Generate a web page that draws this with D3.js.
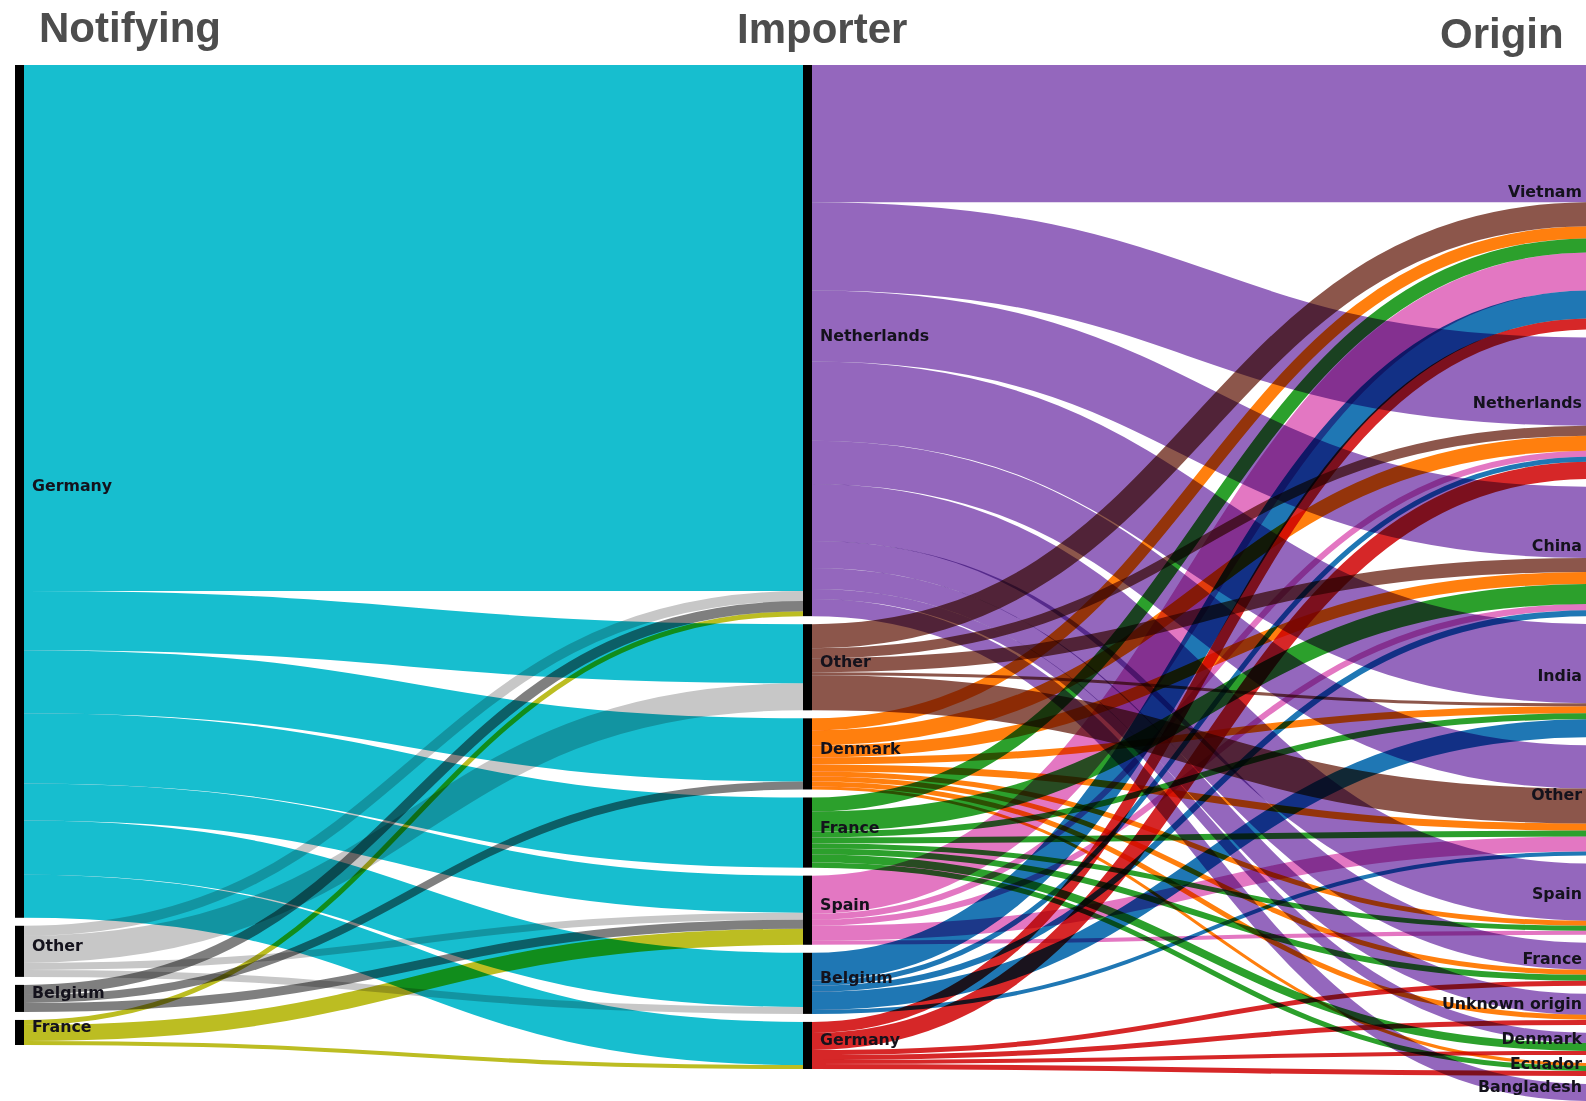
<!DOCTYPE html>
<html>
<head>
<meta charset="utf-8">
<script src="https://cdn.jsdelivr.net/npm/d3@7"></script>
<style>
  html, body { margin: 0; padding: 0; background: #fff; }
  svg { display: block; }
</style>
</head>
<body>
<svg id="chart" width="1586" height="1101"></svg>
<script>
// ---- data ----
const columnTitles = ["Notifying", "Importer", "Origin"];
const notifying = ["Germany", "Other", "Belgium", "France"];
const importers = ["Netherlands", "Other", "Denmark", "France", "Spain", "Belgium", "Germany"];
const origins = ["Vietnam", "Netherlands", "China", "India", "Other", "Spain", "France",
                 "Unknown origin", "Denmark", "Ecuador", "Bangladesh"];

// rows: notifying, columns: importers
const notifyingToImporter = [
  [525, 59, 63, 70, 37, 54, 43],   // Germany
  [10, 27, 0, 0, 7, 7, 0],         // Other
  [10, 0, 8, 0, 9, 0, 0],          // Belgium
  [5, 0, 0, 0, 16, 0, 4]           // France
];

// rows: importers, columns: origins
const importerToOrigin = [
  [137, 88, 71, 79, 43, 57, 27, 21, 10, 0, 17], // Netherlands
  [24, 10, 14, 3, 35, 0, 0, 0, 0, 0, 0],        // Other
  [12, 15, 12, 7, 7, 5, 5, 5, 0, 3, 0],         // Denmark
  [14, 0, 20, 6, 6, 5, 6, 0, 8, 5, 0],          // France
  [38, 6, 6, 0, 15, 4, 0, 0, 0, 0, 0],          // Spain
  [28, 5, 6, 18, 4, 0, 0, 0, 0, 0, 0],          // Belgium
  [11, 17, 0, 0, 0, 0, 5, 5, 4, 5, 0]           // Germany
];

const notifyingColors = ["#17becf", "#c7c7c7", "#7f7f7f", "#bcbd22"];
const importerColors = ["#9467bd", "#8c564b", "#ff7f0e", "#2ca02c", "#e377c2", "#1f77b4", "#d62728"];

// ---- layout ----
const yTop = 65, yBottom = 1101;
const nodeWidth = 9, pad = 8;
const colX = d3.scalePoint().domain([0, 1, 2]).range([15, 1591]);

const columns = [notifying, importers, origins];
const nodes = [];
columns.forEach((names, ci) => {
  names.forEach((name, i) => nodes.push({ name, col: ci, idx: i, id: ci + ":" + i, sourceLinks: [], targetLinks: [] }));
});
const byId = new Map(nodes.map(n => [n.id, n]));

const links = [];
notifyingToImporter.forEach((row, i) => row.forEach((v, j) => {
  if (v > 0) links.push({ source: byId.get("0:" + i), target: byId.get("1:" + j), value: v, color: notifyingColors[i] });
}));
importerToOrigin.forEach((row, i) => row.forEach((v, j) => {
  if (v > 0) links.push({ source: byId.get("1:" + i), target: byId.get("2:" + j), value: v, color: importerColors[i] });
}));
links.forEach(l => { l.source.sourceLinks.push(l); l.target.targetLinks.push(l); });
nodes.forEach(n => {
  n.value = Math.max(d3.sum(n.sourceLinks, l => l.value), d3.sum(n.targetLinks, l => l.value));
});

const maxCount = d3.max(columns, c => c.length);
const total = d3.max([0, 1, 2], ci => d3.sum(nodes.filter(n => n.col === ci), n => n.value));
const ky = d3.scaleLinear().domain([0, total]).range([0, (yBottom - yTop) - (maxCount - 1) * pad]);

[0, 1, 2].forEach(ci => {
  let y = yTop;
  nodes.filter(n => n.col === ci).forEach(n => {
    n.x0 = colX(ci); n.x1 = n.x0 + nodeWidth;
    n.y0 = y; n.y1 = y + ky(n.value);
    y = n.y1 + pad;
  });
});
links.forEach(l => l.width = ky(l.value));
nodes.forEach(n => {
  let sy = n.y0;
  n.sourceLinks.sort((a, b) => a.target.y0 - b.target.y0).forEach(l => { l.y0 = sy + l.width / 2; sy += l.width; });
  let ty = n.y0;
  n.targetLinks.sort((a, b) => a.source.y0 - b.source.y0).forEach(l => { l.y1 = ty + l.width / 2; ty += l.width; });
});

// ---- draw ----
const svg = d3.select("#chart");
const linkGen = d3.linkHorizontal()
  .source(d => [d.source.x1, d.y0])
  .target(d => [d.target.x0, d.y1]);

svg.append("g")
  .attr("fill", "none")
  .selectAll("path")
  .data(links)
  .join("path")
  .attr("d", linkGen)
  .attr("stroke", d => d.color)
  .attr("stroke-width", d => Math.max(1, d.width))
  .style("mix-blend-mode", "multiply");

svg.append("g")
  .selectAll("rect")
  .data(nodes)
  .join("rect")
  .attr("x", d => d.x0)
  .attr("y", d => d.y0)
  .attr("width", d => d.x1 - d.x0)
  .attr("height", d => d.y1 - d.y0)
  .attr("fill", "#000");

svg.append("g")
  .style("font-family", "'DejaVu Sans', Verdana, sans-serif")
  .style("font-weight", "bold")
  .style("font-size", "15.8px")
  .attr("fill", "#14121c")
  .selectAll("text")
  .data(nodes)
  .join("text")
  .attr("x", d => d.col < 2 ? d.x1 + 8 : d.x0 - 9)
  .attr("y", d => (d.y0 + d.y1) / 2)
  .attr("text-anchor", d => d.col < 2 ? "start" : "end")
  .text(d => d.name);

const titlePos = [[39, 42], [737, 43], [1440, 48]];
svg.append("g")
  .style("font-family", "'Liberation Sans', Arial, sans-serif")
  .style("font-weight", "bold")
  .style("font-size", "42px")
  .attr("fill", "#4d4d4d")
  .selectAll("text")
  .data(columnTitles)
  .join("text")
  .attr("x", (d, i) => titlePos[i][0])
  .attr("y", (d, i) => titlePos[i][1])
  .text(d => d);
</script>
</body>
</html>
